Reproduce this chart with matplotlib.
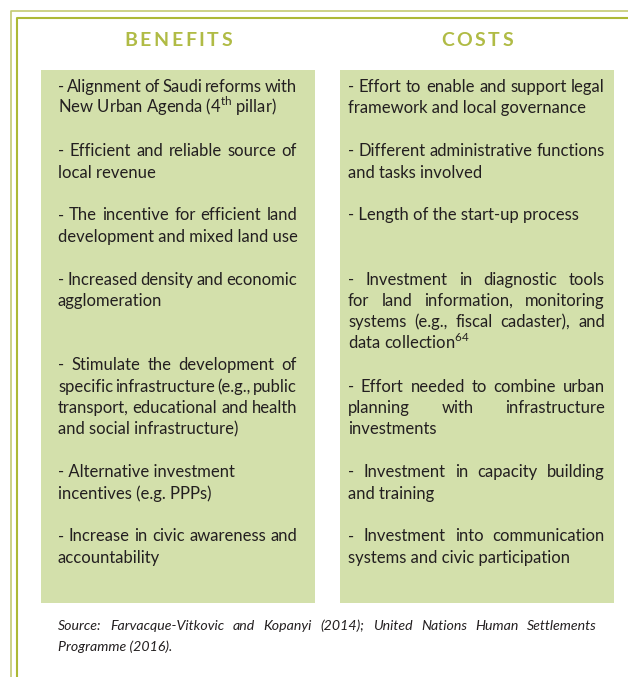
import matplotlib.pyplot as plt
from matplotlib.patches import Rectangle

plt.rcParams['font.family'] = ['Lato', 'DejaVu Sans']
plt.rcParams['mathtext.fontset'] = 'custom'
plt.rcParams['mathtext.rm'] = 'Lato'

headers = ['BENEFITS', 'COSTS']

# one entry per text line, '' is an empty line
benefits = [
    '- Alignment of Saudi reforms with',
    'New Urban Agenda (4$^{\\mathrm{th}}$ pillar)',
    '',
    '- Efficient and reliable source of',
    'local revenue',
    '',
    '- The incentive for efficient land',
    'development and mixed land use',
    '',
    '- Increased density and economic',
    'agglomeration',
    '',
    '',
    '- Stimulate the development of',
    'specific infrastructure (e.g., public',
    'transport, educational and health',
    'and social infrastructure)',
    '',
    '- Alternative investment',
    'incentives (e.g. PPPs)',
    '',
    '- Increase in civic awareness and',
    'accountability',
]

costs = [
    '- Effort to enable and support legal',
    'framework and local governance',
    '',
    '- Different administrative functions',
    'and tasks involved',
    '',
    '- Length of the start-up process',
    '',
    '',
    '- Investment in diagnostic tools',
    'for land information, monitoring',
    'systems (e.g., fiscal cadaster), and',
    'data collection$^{\\mathrm{64}}$',
    '',
    '- Effort needed to combine urban',
    'planning with infrastructure',
    'investments',
    '',
    '- Investment in capacity building',
    'and training',
    '',
    '- Investment into communication',
    'systems and civic participation',
]

source = ['Source: Farvacque-Vitkovic and Kopanyi (2014); United Nations Human Settlements',
          'Programme (2016).']

green = '#d3e0ab'
olive = '#b0bb45'
ink = '#231f20'

fig = plt.figure(figsize=(6.28, 6.77), dpi=100)
ax = fig.add_axes([0, 0, 1, 1])
ax.set_xlim(0, 628)
ax.set_ylim(677, 0)
ax.axis('off')
renderer = fig.canvas.get_renderer()


def width(t):
    return t.get_window_extent(renderer).width


def put_line(text, x0, x1, y, justify, **kw):
    # draws one line; stretched to the full width unless it is short or ends a paragraph
    whole = ax.text(x0, y, text, va='baseline', **kw)
    words = text.split(' ')
    if not justify or len(words) < 2 or width(whole) < 0.78 * (x1 - x0):
        return
    whole.remove()
    parts = [ax.text(0, y, w, va='baseline', **kw) for w in words]
    gap = (x1 - x0 - sum(width(p) for p in parts)) / (len(parts) - 1)
    x = x0
    for p in parts:
        p.set_x(x)
        x += width(p) + gap


# double frame
ax.plot([10.5, 10.5, 628], [677, 11, 11], color='#c3ca72', lw=1.2)
ax.plot([17, 17, 628], [677, 17.5, 17.5], color='#adb935', lw=1.5)

columns = [benefits, costs]
boxes = [(41, 58, 297), (340, 348, 605)]
for head, lines, (bx, tx0, tx1) in zip(headers, columns, boxes):
    ax.add_patch(Rectangle((bx, 70), 274, 533, color=green, lw=0))
    # spaced-out heading
    letters = [ax.text(0, 46, ch, fontsize=14, fontweight='bold', color=olive, va='baseline')
               for ch in head]
    track = 2.6
    total = sum(width(t) for t in letters) + track * (len(letters) - 1)
    x = bx + 137 - total / 2
    for t in letters:
        t.set_x(x)
        x += width(t) + track
    for k, line in enumerate(lines):
        if line:
            more = k + 1 < len(lines) and lines[k + 1] != ''
            put_line(line, tx0, tx1, 92 + k * 21.4, more, fontsize=12, color=ink)

for k, line in enumerate(source):
    put_line(line, 58, 597, 630 + k * 21, k == 0, fontsize=10.2, style='italic', color=ink)

fig.savefig('out.png', dpi=100)
